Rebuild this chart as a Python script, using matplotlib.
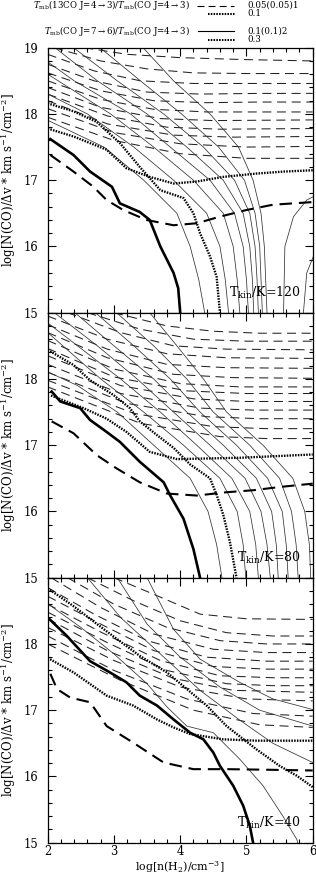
import matplotlib
matplotlib.use('Agg')
import matplotlib.pyplot as plt
from matplotlib.ticker import MultipleLocator

plt.rcParams['font.family'] = ['DejaVu Serif']
plt.rcParams['mathtext.fontset'] = 'dejavuserif'
plt.rcParams['lines.scale_dashes'] = False

# ---------------- data ----------------
x_ticks = [2, 3, 4, 5, 6]
y_ticks = [15, 16, 17, 18, 19]
panel_labels = ['120', '80', '40']

# ---- Tkin = 120 K ----
t120_thick_solid = [(2.04, 17.62), (2.39, 17.38), (2.64, 17.13), (2.97, 16.90), (3.09, 16.65), (3.39, 16.52),
                    (3.54, 16.40), (3.70, 16.0), (3.90, 15.60), (3.97, 15.37), (4.0, 15.0)]
t120_thick_dashed = [(2.04, 17.38), (2.39, 17.13), (2.69, 16.90), (2.89, 16.70), (3.14, 16.55), (3.49, 16.40),
                     (3.90, 16.32), (4.25, 16.35), (4.60, 16.45), (5.0, 16.55), (5.40, 16.63), (6.0, 16.67)]
t120_dotted_13co = [(2.0, 17.78), (2.39, 17.66), (2.89, 17.46), (3.19, 17.18), (3.54, 17.05), (3.90, 16.95),
                    (4.25, 16.98), (4.65, 17.05), (5.15, 17.10), (5.56, 17.13), (6.0, 17.15)]
t120_dotted_co = [(2.0, 18.16), (2.39, 18.04), (2.74, 17.88), (3.09, 17.56), (3.39, 17.20), (3.70, 16.85),
                  (4.05, 16.73), (4.20, 16.50), (4.30, 16.20), (4.45, 15.85), (4.55, 15.54), (4.60, 15.0)]
t120_thin_solid = [
    [(1.8, 18.0), (2.85, 17.5), (3.45, 17.0), (3.95, 16.5), (4.15, 16.0), (4.28, 15.5), (4.37, 15.0)],
    [(1.6, 18.5), (2.6, 18.0), (3.3, 17.5), (3.9, 17.0), (4.4, 16.5), (4.6, 16.0), (4.68, 15.5), (4.73, 15.0)],
    [(2.0, 18.6), (2.95, 18.0), (3.6, 17.5), (4.2, 17.0), (4.65, 16.5), (4.8, 16.0), (4.86, 15.5), (4.9, 15.0)],
    [(1.7, 19.0), (2.4, 18.5), (3.25, 18.0), (3.85, 17.5), (4.45, 17.0), (4.82, 16.5), (4.95, 16.0), (5.0, 15.5), (5.03, 15.0)],
    [(2.11, 19.0), (2.75, 18.5), (3.5, 18.0), (4.1, 17.5), (4.65, 17.0), (4.95, 16.5), (5.05, 16.0), (5.09, 15.5), (5.11, 15.0)],
    [(2.39, 19.0), (3.05, 18.5), (3.75, 18.0), (4.35, 17.5), (4.82, 17.0), (5.05, 16.5), (5.13, 16.0), (5.16, 15.5), (5.18, 15.0)],
    [(2.79, 19.0), (3.4, 18.5), (4.02, 18.0), (4.58, 17.5), (4.97, 17.0), (5.13, 16.5), (5.2, 16.0), (5.22, 15.5), (5.24, 15.0)],
    [(3.44, 19.0), (3.9, 18.5), (4.45, 18.0), (4.88, 17.5), (5.1, 17.0), (5.22, 16.5), (5.27, 16.0), (5.29, 15.5), (5.31, 15.0)],
    [(5.56, 15.0), (5.58, 16.0), (5.71, 16.45), (5.91, 16.70), (6.1, 16.8)],
    [(5.86, 15.0), (5.91, 15.6), (6.05, 15.95)],
]
t120_thin_dashed = [
    [(2.55, 19.0), (3.2, 18.9), (4.0, 18.85), (5.0, 18.82), (6.0, 18.80)],
    [(2.1, 19.0), (2.8, 18.8), (3.5, 18.68), (4.2, 18.62), (5.0, 18.61), (6.0, 18.61)],
    [(2.0, 18.9), (2.7, 18.65), (3.4, 18.5), (4.2, 18.46), (5.0, 18.46), (6.0, 18.46)],
    [(2.0, 18.75), (2.7, 18.5), (3.5, 18.33), (4.3, 18.30), (5.2, 18.31), (6.0, 18.31)],
    [(2.0, 18.62), (2.8, 18.35), (3.6, 18.2), (4.4, 18.17), (5.2, 18.18), (6.0, 18.18)],
    [(2.0, 18.5), (2.8, 18.22), (3.6, 18.07), (4.4, 18.03), (5.2, 18.03), (6.0, 18.03)],
    [(2.0, 18.4), (2.8, 18.1), (3.7, 17.93), (4.5, 17.9), (6.0, 17.91)],
    [(2.0, 18.3), (2.9, 17.97), (3.8, 17.8), (4.6, 17.77), (6.0, 17.78)],
    [(2.0, 18.2), (2.9, 17.85), (3.9, 17.68), (4.8, 17.65), (6.0, 17.66)],
    [(2.0, 18.08), (3.0, 17.72), (4.0, 17.55), (5.0, 17.5), (6.0, 17.51)],
    [(2.0, 17.95), (3.0, 17.6), (4.0, 17.4), (5.0, 17.33), (6.0, 17.33)],
]

# ---- Tkin = 80 K ----
t80_thick_solid = [(2.06, 17.81), (2.19, 17.66), (2.49, 17.56), (2.64, 17.38), (2.89, 17.20), (3.09, 17.05),
                   (3.39, 16.75), (3.75, 16.44), (3.85, 16.24), (4.05, 15.89), (4.20, 15.43), (4.30, 15.0)]
t80_thick_dashed = [(2.06, 17.36), (2.39, 17.18), (2.74, 16.85), (3.04, 16.65), (3.39, 16.44), (3.80, 16.27),
                    (4.25, 16.24), (4.70, 16.29), (5.10, 16.32), (5.51, 16.37), (6.0, 16.42)]
t80_dotted_13co = [(2.05, 17.75), (2.54, 17.56), (2.89, 17.40), (3.19, 17.20), (3.54, 16.90), (3.95, 16.79),
                   (4.90, 16.81), (6.0, 16.86)]
t80_dotted_co = [(2.0, 18.44), (2.39, 18.21), (2.64, 17.98), (2.99, 17.76), (3.24, 17.56), (3.39, 17.36),
                 (3.64, 17.16), (3.90, 16.96), (4.15, 16.71), (4.45, 16.50), (4.55, 16.25), (4.65, 15.95),
                 (4.75, 15.54), (4.85, 15.0)]
t80_thin_solid = [
    [(1.8, 18.2), (2.45, 17.9), (3.05, 17.5), (3.6, 17.0), (4.15, 16.5), (4.42, 16.0), (4.55, 15.5), (4.63, 15.0)],
    [(2.0, 18.7), (2.8, 18.0), (3.45, 17.5), (4.05, 17.0), (4.6, 16.5), (4.86, 16.0), (4.95, 15.5), (4.99, 15.0)],
    [(1.8, 19.0), (2.45, 18.5), (3.1, 18.0), (3.7, 17.5), (4.25, 17.0), (4.78, 16.5), (5.05, 16.0), (5.14, 15.5), (5.18, 15.0)],
    [(2.1, 19.0), (2.75, 18.5), (3.35, 18.0), (3.9, 17.5), (4.45, 17.0), (4.98, 16.5), (5.22, 16.0), (5.31, 15.5), (5.36, 15.0)],
    [(2.41, 19.0), (3.0, 18.5), (3.6, 18.0), (4.1, 17.5), (4.65, 17.0), (5.15, 16.5), (5.38, 16.0), (5.45, 15.5), (5.48, 15.0)],
    [(2.72, 19.0), (3.3, 18.5), (3.85, 18.0), (4.3, 17.5), (4.85, 17.0), (5.32, 16.5), (5.54, 16.0), (5.6, 15.5), (5.63, 15.0)],
    [(3.04, 19.0), (3.6, 18.5), (4.1, 18.0), (4.5, 17.5), (5.05, 17.0), (5.5, 16.5), (5.68, 16.0), (5.75, 15.5), (5.78, 15.0)],
    [(3.54, 19.0), (3.95, 18.5), (4.35, 18.0), (4.7, 17.5), (5.25, 17.0), (5.7, 16.5), (5.88, 16.0), (5.95, 15.5), (5.97, 15.0)],
]
t80_thin_dashed = [
    [(3.0, 19.0), (3.8, 18.8), (4.5, 18.72), (5.2, 18.69), (6.0, 18.69)],
    [(2.6, 19.0), (3.4, 18.75), (4.2, 18.6), (5.0, 18.57), (6.0, 18.57)],
    [(2.3, 19.0), (3.1, 18.7), (3.9, 18.5), (4.7, 18.45), (6.0, 18.44)],
    [(2.0, 18.95), (2.9, 18.6), (3.8, 18.38), (4.7, 18.32), (6.0, 18.31)],
    [(2.0, 18.82), (2.9, 18.45), (3.8, 18.22), (4.7, 18.17), (6.0, 18.16)],
    [(2.0, 18.7), (2.9, 18.32), (3.9, 18.07), (4.8, 18.02), (6.0, 18.01)],
    [(2.0, 18.58), (3.0, 18.15), (4.0, 17.93), (4.9, 17.88), (6.0, 17.88)],
    [(2.0, 18.46), (3.0, 18.03), (4.1, 17.82), (5.0, 17.78), (6.0, 17.78)],
    [(2.0, 18.35), (3.1, 17.9), (4.2, 17.7), (5.0, 17.66), (6.0, 17.66)],
    [(2.0, 18.22), (3.1, 17.78), (4.3, 17.56), (5.1, 17.53), (6.0, 17.53)],
    [(2.0, 18.1), (3.2, 17.63), (4.4, 17.43), (5.2, 17.40), (6.0, 17.40)],
    [(2.0, 17.98), (3.3, 17.48), (4.5, 17.28), (5.3, 17.25), (6.0, 17.25)],
    [(2.0, 17.88), (3.4, 17.33), (4.6, 17.13), (5.3, 17.10), (6.0, 17.10)],
]

# ---- Tkin = 40 K ----
t40_thick_solid = [(2.0, 18.40), (2.29, 18.12), (2.64, 17.74), (2.94, 17.57), (3.19, 17.42), (3.39, 17.22),
                   (3.65, 17.07), (3.90, 16.86), (4.15, 16.66), (4.35, 16.56), (4.50, 16.36), (4.60, 16.16),
                   (4.80, 15.86), (4.95, 15.56), (5.05, 15.26), (5.10, 15.0)]
t40_thick_dashed = [(2.04, 17.55), (2.14, 17.32), (2.34, 17.19), (2.64, 17.12), (2.89, 16.76), (3.29, 16.51),
                    (3.75, 16.21), (4.20, 16.11), (4.70, 16.11), (5.40, 16.10), (6.0, 16.09)]
t40_dotted_13co = [(2.0, 17.79), (2.39, 17.57), (2.89, 17.22), (3.29, 17.07), (3.65, 16.86), (3.90, 16.74),
                   (4.15, 16.64), (4.65, 16.56), (5.15, 16.54), (6.0, 16.54)]
t40_dotted_co = [(2.0, 18.84), (2.39, 18.57), (2.89, 18.19), (3.39, 17.82), (3.80, 17.57), (4.10, 17.32),
                 (4.40, 17.07), (4.70, 16.76), (5.15, 16.41), (5.50, 16.16), (5.76, 16.01), (6.0, 15.84)]
t40_thin_solid = [
    [(1.8, 18.75), (2.5, 18.25), (3.0, 17.85), (3.5, 17.4), (3.8, 17.05), (4.1, 16.76), (4.5, 16.66),
     (4.9, 16.26), (5.25, 15.86), (5.55, 15.4), (5.76, 15.05), (5.8, 14.9)],
    [(2.6, 19.0), (3.1, 18.4), (3.7, 17.85), (4.3, 17.3), (4.9, 16.85), (5.4, 16.5), (6.0, 16.21)],
    [(3.05, 19.0), (3.5, 18.3), (4.0, 17.8), (4.6, 17.35), (5.2, 17.0), (6.0, 16.76)],
    [(3.5, 19.0), (3.9, 18.22), (4.3, 17.77), (4.9, 17.42), (5.4, 17.17), (6.0, 17.01)],
]
t40_thin_dashed = [
    [(3.0, 19.0), (3.6, 18.75), (4.3, 18.45), (5.0, 18.38), (6.0, 18.37)],
    [(2.6, 19.0), (3.3, 18.65), (4.0, 18.35), (4.7, 18.17), (5.4, 18.12), (6.0, 18.12)],
    [(2.3, 19.0), (3.0, 18.6), (3.8, 18.25), (4.6, 18.05), (5.3, 18.0), (6.0, 18.0)],
    [(2.05, 19.0), (2.8, 18.55), (3.6, 18.15), (4.5, 17.92), (5.3, 17.87), (6.0, 17.87)],
    [(2.0, 18.85), (2.7, 18.45), (3.5, 18.05), (4.4, 17.8), (5.3, 17.74), (6.0, 17.74)],
    [(2.0, 18.72), (2.8, 18.3), (3.6, 17.9), (4.5, 17.66), (5.3, 17.62), (6.0, 17.62)],
    [(2.0, 18.6), (2.8, 18.18), (3.7, 17.75), (4.6, 17.52), (5.4, 17.49), (6.0, 17.49)],
    [(2.0, 18.48), (2.9, 18.02), (3.8, 17.6), (4.7, 17.4), (5.4, 17.37), (6.0, 17.37)],
    [(2.0, 18.38), (2.9, 17.9), (3.9, 17.48), (4.8, 17.3), (6.0, 17.27)],
    [(2.0, 18.25), (3.0, 17.75), (4.0, 17.35), (5.0, 17.17), (6.0, 17.14)],
    [(2.0, 18.12), (3.0, 17.6), (4.1, 17.17), (5.1, 16.95), (6.0, 16.91)],
    [(2.0, 18.0), (3.1, 17.45), (4.2, 17.0), (5.2, 16.78), (6.0, 16.74)],
]

legend_ratio_13co = r'$T_{\rm mb}$(13CO J=4$\rightarrow$3)/$T_{\rm mb}$(CO J=4$\rightarrow$3)'
legend_ratio_co = r'$T_{\rm mb}$(CO J=7$\rightarrow$6)/$T_{\rm mb}$(CO J=4$\rightarrow$3)'
legend_levels = ['0.05(0.05)1', '0.1', '0.1(0.1)2', '0.3']

# ---------------- figure ----------------
W, H = 316, 876
fig = plt.figure(figsize=(W / 100, H / 100), dpi=100)

panels = [
    (panel_labels[0], t120_thin_dashed, t120_thin_solid, t120_dotted_13co, t120_dotted_co, t120_thick_dashed, t120_thick_solid),
    (panel_labels[1], t80_thin_dashed, t80_thin_solid, t80_dotted_13co, t80_dotted_co, t80_thick_dashed, t80_thick_solid),
    (panel_labels[2], t40_thin_dashed, t40_thin_solid, t40_dotted_13co, t40_dotted_co, t40_thick_dashed, t40_thick_solid),
]

thin_dash = (0, (6.5, 4.0))
thick_dash = (0, (9.0, 5.0))
dots = (0, (1.1, 0.9))

ax_left, ax_w, ax_h = 47.7, 265.0, 265.0
tops = [47.7, 312.7, 577.7]

def xy(pts):
    return [p[0] for p in pts], [p[1] for p in pts]

for i, (lab, tdash, tsolid, d13, dco, kdash, ksolid) in enumerate(panels):
    top = tops[i]
    ax = fig.add_axes([ax_left / W, 1 - (top + ax_h) / H, ax_w / W, ax_h / H])
    for ln in tdash:
        ax.plot(*xy(ln), color='#222222', lw=0.75, linestyle=thin_dash)
    for ln in tsolid:
        ax.plot(*xy(ln), color='#333333', lw=0.55)
    ax.plot(*xy(d13), color='black', lw=1.7, linestyle=dots)
    ax.plot(*xy(dco), color='black', lw=1.7, linestyle=dots)
    ax.plot(*xy(kdash), color='black', lw=1.5, linestyle=thick_dash)
    ax.plot(*xy(ksolid), color='black', lw=1.9)

    ax.set_xlim(2, 6)
    ax.set_ylim(15, 19)
    ax.set_xticks(x_ticks)
    ax.set_yticks(y_ticks)
    ax.xaxis.set_minor_locator(MultipleLocator(0.2))
    ax.yaxis.set_minor_locator(MultipleLocator(0.2))
    ax.tick_params(which='both', direction='in', top=True, right=True, width=0.8, colors='black')
    ax.tick_params(which='major', length=6)
    ax.tick_params(which='minor', length=3)
    ax.tick_params(axis='y', labelsize=8.3, pad=7)
    ax.tick_params(axis='x', labelsize=8.3, pad=2)
    for s in ax.spines.values():
        s.set_linewidth(0.9)
    ylabels = [str(v) for v in y_ticks]
    if i > 0:
        ylabels[-1] = ''
    ax.set_yticklabels(ylabels)
    if i < 2:
        ax.set_xticklabels([])
    else:
        ax.set_xlabel(r'log[n(H$_2$)/cm$^{-3}$]', fontsize=7.9)
        ax.xaxis.set_label_coords(0.5, -0.061)
    ax.set_ylabel(r'log[N(CO)/$\Delta$v * km s$^{-1}$/cm$^{-2}$]', fontsize=8.5)
    ax.yaxis.set_label_coords(-0.112, 0.5)
    ax.text(5.82, 15.3, r'T$_{\rm kin}$/K=' + lab, fontsize=9, ha='right', va='center')

# legend at top (overlay axes in pixel coordinates)
lg = fig.add_axes([0, 0, 1, 1])
lg.set_xlim(0, W)
lg.set_ylim(H, 0)
lg.axis('off')
fs = 6.2
lg.text(190, 5.5, legend_ratio_13co, fontsize=fs, ha='right', va='center')
lg.plot([197, 234], [5.5, 5.5], color='black', lw=0.8, linestyle=(0, (5.0, 3.0)))
lg.text(247, 5.5, legend_levels[0], fontsize=fs, ha='left', va='center')
lg.plot([208, 235], [14, 14], color='black', lw=1.5, linestyle=dots)
lg.text(247, 14, legend_levels[1], fontsize=fs, ha='left', va='center')
lg.text(190, 31, legend_ratio_co, fontsize=fs, ha='right', va='center')
lg.plot([198, 234], [31, 31], color='black', lw=0.8)
lg.text(247, 31, legend_levels[2], fontsize=fs, ha='left', va='center')
lg.plot([208, 235], [39.5, 39.5], color='black', lw=1.5, linestyle=dots)
lg.text(247, 39.5, legend_levels[3], fontsize=fs, ha='left', va='center')

fig.savefig('out.png', dpi=100)
